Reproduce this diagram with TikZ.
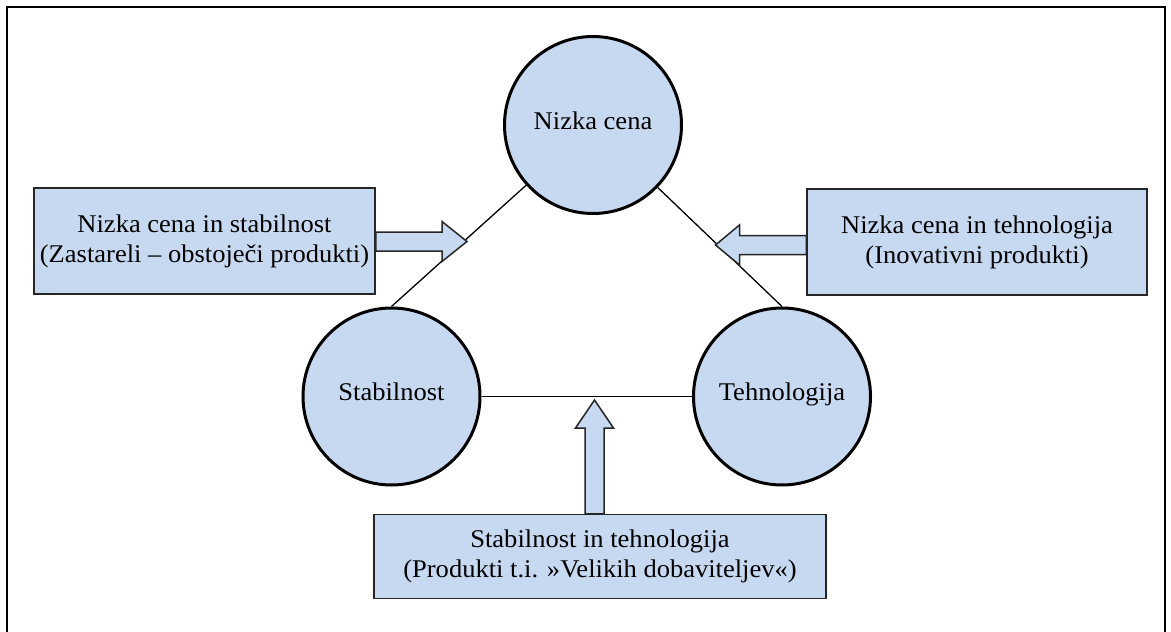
\documentclass[tikz,border=0pt]{standalone}
\usepackage{fontspec}
\setmainfont{Liberation Serif}[FakeStretch=1.04]
\usetikzlibrary{calc}
\definecolor{boxfill}{HTML}{C6D9F1}
\begin{document}
\begin{tikzpicture}[x=1pt,y=-1pt,
  every node/.style={font=\fontsize{25.5}{30}\selectfont, text=black},
  circ/.style={circle, draw=black, line width=3pt, fill=boxfill, minimum size=177pt,
    inner sep=0pt, text height=0.85em, text depth=0.05em},
  infobox/.style={rectangle, draw=black!85, line width=1.5pt, fill=boxfill, align=center, inner sep=0pt},
  link/.style={draw=black, line width=1.3pt},
  barrow/.style={draw=black!85, line width=1.5pt, fill=boxfill, line join=miter},
  frame/.style={draw=black, line width=2pt}]
\useasboundingbox (0,0) rectangle (1171,632);

% page frame
\draw[frame] (7,632) -- (7,7) -- (1165,7) -- (1165,632);

% explanatory boxes
\node[infobox, minimum width=341pt, minimum height=106pt] (lb) at (204.5,241)
  {Nizka cena in stabilnost\\(Zastareli -- obstoječi produkti)};
\node[infobox, minimum width=340pt, minimum height=106pt] (rb) at (977,242)
  {Nizka cena in tehnologija\\(Inovativni produkti)};
\node[infobox, minimum width=452pt, minimum height=84pt] (bb) at (600,556.5)
  {Stabilnost in tehnologija\\(Produkti t.i. »Velikih dobaviteljev«)};

% the three factors
\node[circ] (nc) at (593,125) {Nizka cena};
\node[circ] (st) at (391.5,396.5) {Stabilnost};
\node[circ] (te) at (782,396.5) {Tehnologija};

% triangle sides
\draw[link] (nc.222) -- (st.north);
\draw[link] (nc.316) -- (te.north);
\draw[link] (st.east) -- (te.west);

% arrow tips resting on the sides
\coordinate (tipL) at (467,241.5);
\coordinate (tipR) at (715.5,245);
\coordinate (tipB) at (594.5,400);

% block arrows from the boxes to the sides
\draw[barrow] let \p1=(tipL), \p2=(lb.east) in
  (\p1) -- (\x1-25,\y1+20) -- (\x1-25,\y1+9.5) -- (\x2,\y1+9.5)
  -- (\x2,\y1-9.5) -- (\x1-25,\y1-9.5) -- (\x1-25,\y1-20) -- cycle;
\draw[barrow] let \p1=(tipR), \p2=(rb.west) in
  (\p1) -- (\x1+24,\y1+20) -- (\x1+24,\y1+9.5) -- (\x2,\y1+9.5)
  -- (\x2,\y1-9.5) -- (\x1+24,\y1-9.5) -- (\x1+24,\y1-20) -- cycle;
\draw[barrow] let \p1=(tipB), \p2=(bb.north) in
  (\p1) -- (\x1-19,\y1-28) -- (\x1-9.5,\y1-28) -- (\x1-9.5,\y2)
  -- (\x1+9.5,\y2) -- (\x1+9.5,\y1-28) -- (\x1+19,\y1-28) -- cycle;
\end{tikzpicture}
\end{document}
